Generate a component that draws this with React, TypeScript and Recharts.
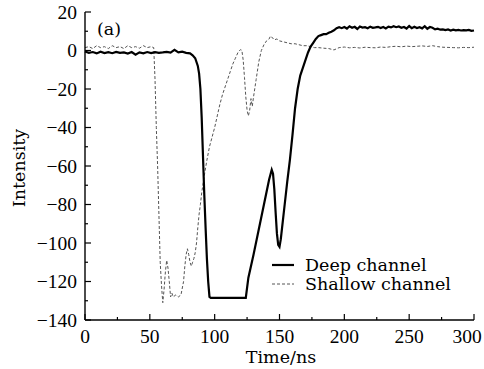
import { LineChart, Line, XAxis, YAxis, Legend } from "recharts";

const deepTime = [
  0, 3, 6, 9, 12, 15, 18, 21, 24, 27, 30, 33, 36, 39, 42, 45, 48, 51, 54, 57, 60, 63, 66, 69, 72, 75, 78, 81,
  83, 85, 87, 88, 89, 90, 91, 92, 93, 94, 95, 96, 97, 100, 105, 110, 115, 120, 124,
  126, 130, 134, 138, 142, 144, 145, 146, 147, 148, 149, 150, 151, 152, 154, 156, 158, 160, 162, 164, 166,
  168, 170, 172, 174, 176, 178, 180, 182, 184, 186, 188, 190, 192, 194, 196, 198,
  200, 202, 204, 206, 208, 210, 212, 214, 216, 218, 220, 222, 224, 226, 228, 230, 232, 234, 236, 238, 240,
  242, 244, 246, 248, 250, 252, 254, 256, 258, 260, 262, 264, 266, 268, 270, 272, 274, 276, 278, 280,
  282, 284, 286, 288, 290, 292, 294, 296, 298, 300,
];
const deepValue = [
  -0.5, -1.2, -0.8, -1.5, -0.6, -1.3, -0.9, -1.4, -0.7, -1.2, -1.0, -1.6, -0.8, -2.2, -1.0, -1.5, -0.8, -1.3,
  -0.9, -1.2, -1.0, -0.7, -1.1, 0.3, -1.0, -0.6, -1.2, -1.5,
  -2.5, -4, -8, -12, -20, -35, -55, -75, -92, -108, -120, -128, -128.5, -128.5, -128.5, -128.5, -128.5, -128.5, -128.5,
  -118, -106, -93, -80, -67, -62, -64, -72, -84, -95, -101, -102, -98, -92, -80, -68, -57, -44, -30, -20, -13,
  -9, -5, -1, 2, 4, 6, 7.5, 8, 8.5, 8.5, 9.2, 9.8, 10.5, 11.6, 12.1, 11.6,
  12.2, 11.4, 12.6, 11.8, 12.3, 11.2, 12.5, 11.9, 12.1, 11.6, 12.4, 11.8, 12.0, 12.3, 11.7, 12.2, 11.5, 12.4, 12.0, 12.6, 12.1,
  12.5, 11.8, 12.2, 11.4, 12.7, 11.6, 12.3, 11.7, 12.1, 11.5, 12.6, 11.3, 12.2, 11.8, 11.0, 11.3, 10.8, 11.0, 10.6, 10.9,
  10.4, 10.8, 10.5, 10.7, 10.4, 10.6, 10.5, 10.7, 10.2, 10.4,
];

const shallowTime = [
  0, 3, 6, 9, 12, 15, 18, 21, 24, 27, 30, 33, 36, 39, 42, 45, 48, 51, 53, 54, 55, 56, 57, 58, 59, 60, 61, 62, 63,
  64, 65, 66, 67, 68, 70, 72, 74, 76, 77, 78, 79, 80, 81, 82, 83, 84, 85, 86, 87, 88, 89, 90, 92, 94, 96, 98,
  100, 102, 104, 106, 108, 110, 112, 114, 116, 118, 120, 121, 122, 123, 124, 125, 126, 127, 128, 129, 130,
  132, 134, 136, 138, 140, 142, 143, 144, 146, 148, 150, 153, 156, 159, 162, 165, 168, 171, 174, 177,
  180, 184, 188, 192, 196, 200, 204, 208, 212, 216, 220, 224, 228, 232, 236, 240, 244, 248, 252, 256, 260,
  264, 268, 272, 276, 280, 284, 288, 292, 296, 300,
];
const shallowValue = [
  1.5, 2, 1, 2.5, 1.5, 2, 1, 2.5, 1.5, 2, 1, 2.5, 1.5, 2, 1.2, 2.5, 1.5, 2, 1.5, -15, -40, -60, -85, -110, -122, -131, -124, -115, -109,
  -113, -120, -128, -126, -128, -127, -128, -127, -120, -112, -106, -103, -106, -110, -112, -110, -108, -105, -100, -92, -85, -80, -74, -65, -57, -50, -45,
  -40, -34, -28, -23, -19, -15, -11, -7, -4, -1, 0.5, 0, -5, -14, -24, -31, -34, -31, -25, -29, -24,
  -15, -6, 0, 3, 5, 6, 7.5, 7, 5.5, 6, 5, 4.5, 4, 3.5, 3.5, 3, 2.5, 2.5, 2, 1.5,
  1.5, 1.2, 1.0, 0.3, 1.5, 1.8, 1.4, 1.6, 1.3, 1.7, 1.5, 1.4, 1.8, 1.6, 2.0, 2.2, 1.9, 2.3, 2.0, 2.2, 2.4,
  2.1, 2.5, 2.0, 1.7, 1.6, 1.5, 1.4, 1.6, 1.5, 1.7,
];

const xTicks = [0, 25, 50, 75, 100, 125, 150, 175, 200, 225, 250, 275, 300];
const yTicks = [-140, -130, -120, -110, -100, -90, -80, -70, -60, -50, -40, -30, -20, -10, 0, 10, 20];

const deepData = deepTime.map((t, i) => ({ t, v: deepValue[i] }));
const shallowData = shallowTime.map((t, i) => ({ t, v: shallowValue[i] }));

const FONT = "'DejaVu Serif', serif";
const NUM_FONT = "'Liberation Serif', serif";
const fmt = (v: number) => (v < 0 ? `\u2212${Math.abs(v)}` : `${v}`);

function XTick(props: any) {
  const { x, y, payload, side } = props;
  const major = payload.value % 50 === 0;
  const len = major ? 6 : 3;
  const dir = side === "top" ? 1 : -1;
  // last label is pulled in so it stays inside the picture
  const lx = payload.value === 300 ? x - 7 : x;
  return (
    <g>
      <line x1={x} x2={x} y1={y} y2={y + dir * len} stroke="#000" strokeWidth={1.2} />
      {side === "bottom" && major && (
        <text x={lx} y={y + 23} textAnchor="middle" fontFamily={NUM_FONT} fontSize={19.5} fill="#000">
          {payload.value}
        </text>
      )}
    </g>
  );
}

function YTick(props: any) {
  const { x, y, payload, side } = props;
  const major = payload.value % 20 === 0;
  const len = major ? 6 : 3;
  const dir = side === "right" ? -1 : 1;
  return (
    <g>
      <line x1={x} x2={x + dir * len} y1={y} y2={y} stroke="#000" strokeWidth={1.2} />
      {side === "left" && major && (
        <text x={x - 8} y={y + 6.5} textAnchor="end" fontFamily={NUM_FONT} fontSize={19.5} fill="#000">
          {fmt(payload.value)}
        </text>
      )}
    </g>
  );
}

const legendItems = [
  { name: "Deep channel", color: "#000", width: 2.2, dash: undefined },
  { name: "Shallow channel", color: "#555", width: 1, dash: "3 2" },
];

function LegendBox() {
  return (
    <div style={{ fontFamily: FONT, fontSize: 17.5, color: "#000", lineHeight: "18.5px" }}>
      {legendItems.map((it) => (
        <div key={it.name} style={{ display: "flex", alignItems: "center", height: 18.5 }}>
          <svg width={32} height={10} style={{ marginRight: 2 }}>
            <line x1={1} x2={23} y1={5} y2={5} stroke={it.color} strokeWidth={it.width} strokeDasharray={it.dash} />
          </svg>
          <span>{it.name}</span>
        </div>
      ))}
    </div>
  );
}

export default function App() {
  return (
    <div style={{ position: "absolute", left: 0, top: 0, width: 484, height: 369, background: "#fff" }}>
      <LineChart width={484} height={369} margin={{ top: 12, right: 10, left: 0, bottom: 0 }}>
        <XAxis
          xAxisId="b"
          dataKey="t"
          type="number"
          domain={[0, 300]}
          ticks={xTicks}
          interval={0}
          height={49}
          tickSize={0}
          tickMargin={0}
          tickLine={false}
          axisLine={{ stroke: "#000", strokeWidth: 1.4 }}
          tick={(p: any) => <XTick {...p} side="bottom" />}
        />
        <XAxis
          xAxisId="t"
          orientation="top"
          dataKey="t"
          type="number"
          domain={[0, 300]}
          ticks={xTicks}
          interval={0}
          height={0}
          tickSize={0}
          tickMargin={0}
          tickLine={false}
          axisLine={{ stroke: "#000", strokeWidth: 1.4 }}
          tick={(p: any) => <XTick {...p} side="top" />}
        />
        <YAxis
          yAxisId="l"
          type="number"
          domain={[-140, 20]}
          ticks={yTicks}
          interval={0}
          width={85}
          tickSize={0}
          tickMargin={0}
          tickLine={false}
          axisLine={{ stroke: "#000", strokeWidth: 1.4 }}
          tick={(p: any) => <YTick {...p} side="left" />}
        />
        <YAxis
          yAxisId="r"
          orientation="right"
          type="number"
          domain={[-140, 20]}
          ticks={yTicks}
          interval={0}
          width={0}
          tickSize={0}
          tickMargin={0}
          tickLine={false}
          axisLine={{ stroke: "#000", strokeWidth: 1.4 }}
          tick={(p: any) => <YTick {...p} side="right" />}
        />
        <Line
          xAxisId="b"
          yAxisId="l"
          data={shallowData}
          dataKey="v"
          type="linear"
          stroke="#555"
          strokeWidth={1}
          strokeDasharray="3 2"
          dot={false}
          isAnimationActive={false}
        />
        <Line
          xAxisId="b"
          yAxisId="l"
          data={deepData}
          dataKey="v"
          type="linear"
          stroke="#000"
          strokeWidth={2.2}
          dot={false}
          isAnimationActive={false}
        />
        <Legend
          layout="vertical"
          align="center"
          verticalAlign="middle"
          content={() => <LegendBox />}
          wrapperStyle={{ left: 271, top: 256, width: 200, height: 40 }}
        />
      </LineChart>
      <svg width={484} height={369} style={{ position: "absolute", left: 0, top: 0, pointerEvents: "none" }}>
        <text x={97} y={35} fontFamily={FONT} fontSize={17.5} fill="#000">(a)</text>
        <text x={281} y={363} textAnchor="middle" fontFamily={FONT} fontSize={17.5} fill="#000">Time/ns</text>
        <text x={25} y={168} transform="rotate(-90 25 168)" textAnchor="middle" fontFamily={FONT} fontSize={17.5} fill="#000">
          Intensity
        </text>
      </svg>
    </div>
  );
}
